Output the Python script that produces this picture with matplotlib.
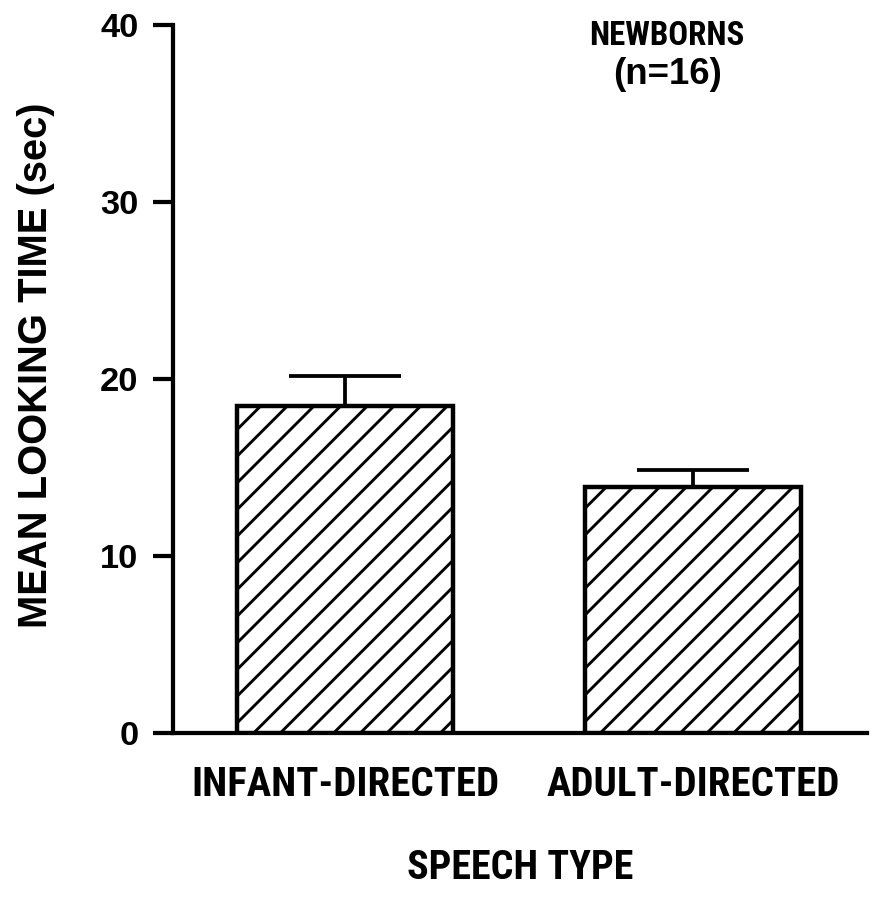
import matplotlib
matplotlib.use("Agg")
import matplotlib.pyplot as plt

categories = ["INFANT-DIRECTED", "ADULT-DIRECTED"]
means = [18.5, 13.9]
errors = [1.65, 0.95]
yticks = [0, 10, 20, 30, 40]

plt.rcParams['font.family'] = ['Liberation Sans', 'DejaVu Sans']
plt.rcParams['hatch.linewidth'] = 1.3
plt.rcParams['hatch.color'] = 'black'
NARROW = ['Roboto Condensed', 'Roboto', 'Liberation Sans', 'DejaVu Sans']

DPI = 160
fig = plt.figure(figsize=(881 / DPI, 899 / DPI), dpi=DPI)
ax = fig.add_axes([0.1964, 0.1846, 0.7877, 0.7876])

x = list(range(len(categories)))
ax.bar(x, means, width=0.62, color='white', edgecolor='black',
       linewidth=2.0, hatch='//', zorder=3)
ax.errorbar(x, means, yerr=[[0] * len(errors), errors], fmt='none',
            ecolor='black', elinewidth=1.7, capsize=25, capthick=1.7, zorder=2)

ax.set_xlim(-0.494, 1.5)
ax.set_ylim(0, 40)
ax.set_yticks(yticks)
ax.set_yticklabels([str(v) for v in yticks], fontsize=15.5, fontweight='bold')
ax.set_xticks(x)
ax.set_xticklabels(categories, fontsize=18.4, fontweight='bold', family=NARROW)

for s in ['top', 'right']:
    ax.spines[s].set_visible(False)
for s in ['left', 'bottom']:
    ax.spines[s].set_linewidth(1.9)
ax.tick_params(axis='y', length=9, width=1.9, pad=6.5, direction='out')
ax.tick_params(axis='x', length=0, pad=15)

ax.set_ylabel("MEAN LOOKING TIME (sec)", fontsize=18, fontweight='bold')
ax.yaxis.set_label_coords(-0.170, 0.52)
ax.set_xlabel("SPEECH TYPE", fontsize=18, fontweight='bold', family=NARROW,
              labelpad=20)

ax.text(0.712, 0.985, "NEWBORNS", transform=ax.transAxes, ha='center',
        va='center', fontsize=14.8, fontweight='bold', family=NARROW)
ax.text(0.712, 0.93, "(n=16)", transform=ax.transAxes, ha='center',
        va='center', fontsize=16.5, fontweight='bold')

fig.savefig("out.png", dpi=DPI)
